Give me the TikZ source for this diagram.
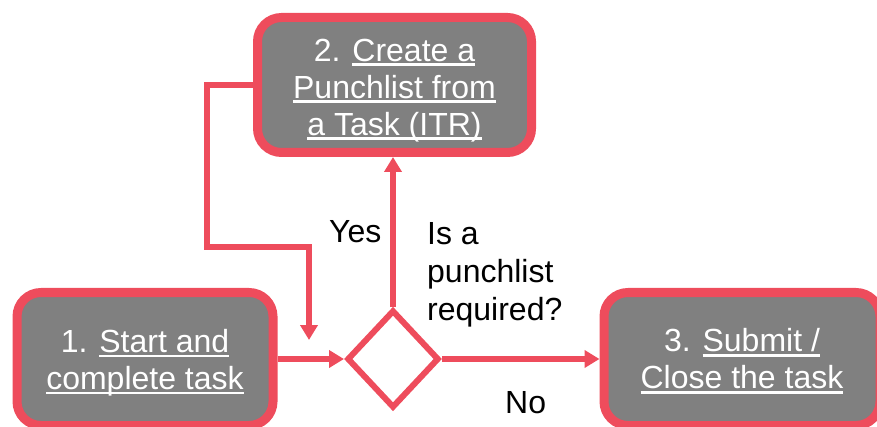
\documentclass[tikz,border=0pt]{standalone}
\usepackage{fontspec}
\setmainfont{Liberation Sans}
\usetikzlibrary{shapes.geometric,arrows.meta}
\definecolor{pred}{RGB}{238,76,92}
\definecolor{pgrey}{RGB}{128,128,128}
\newcommand\ulin[1]{\setbox0\hbox{#1}\rlap{\smash{\rule[-4.6pt]{\wd0}{2.2pt}}}\box0}
\begin{document}
\begin{tikzpicture}[x=1pt,y=-1pt,
  box/.style={draw=pred, fill=pgrey, line width=9pt, rounded corners=24pt, inner sep=0pt,
    text=white, align=center, font=\fontsize{32}{37}\selectfont},
  conn/.style={draw=pred, line width=5.5pt, -{Triangle[length=15pt,width=17pt]}},
  lbl/.style={font=\fontsize{32}{38}\selectfont, inner sep=0pt, text=black}]
\useasboundingbox (0,0) rectangle (877,427);
\clip (0,0) rectangle (877,427);
\node[box, minimum width=274pt, minimum height=135pt] (b2) at (394.5,85)
  {\rule{0pt}{32.8pt}2. \ulin{Create a}\\\ulin{Punchlist from}\\\ulin{a Task (ITR)}};
\node[box, minimum width=256pt, minimum height=133pt] (b1) at (145,359)
  {\rule{0pt}{30.8pt}1. \ulin{Start and}\\\ulin{complete task}};
\node[box, minimum width=276pt, minimum height=133pt] (b3) at (742,359)
  {3. \ulin{Submit /}\\\ulin{Close the task}};
\node[diamond, draw=pred, fill=white, line width=6pt, inner sep=0pt,
  minimum width=92pt, minimum height=98pt] (d) at (393,359) {};
\coordinate (c1) at (207,247);
\coordinate (lp) at (309,340);
\draw[conn] (b1.east |- d.west) -- (d.west);
\draw[conn] (d.east) -- (d.east -| b3.west);
\draw[conn] (d.north) -- (d.north |- b2.south);
\draw[conn] (b2.west) -| (c1) -| (lp);
\node[lbl, anchor=base west] (yes) at (329,243) {Yes};
\node[lbl, anchor=base west] (no) at (505,413) {No};
\node[lbl, align=left, anchor=north west] (q) at (427,222) {Is a\\punchlist\\required?};
\end{tikzpicture}
\end{document}
